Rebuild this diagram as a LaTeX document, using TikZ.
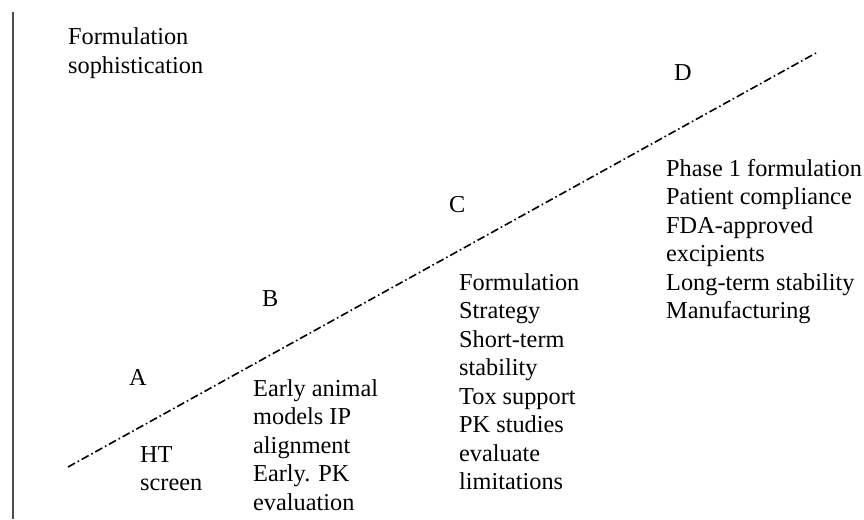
\documentclass[tikz,border=0pt]{standalone}
\usepackage{fontspec}
\setmainfont{Liberation Serif}
\tikzset{
  lbl/.style={anchor=base west, inner sep=0pt, align=left,
    font=\fontsize{24.3}{28.5}\selectfont},
  axis/.style={draw=black!70, line width=2pt},
  trend/.style={line width=1.6pt, dash pattern=on 8pt off 3pt on 1.6pt off 3pt}
}
\begin{document}
\begin{tikzpicture}[x=1pt,y=-1pt]
\useasboundingbox (0,0) rectangle (864,519);
% vertical axis
\coordinate (axtop) at (12.5,12);
\coordinate (axbot) at (12.5,519);
\draw[axis] (axtop) -- (axbot);
% rising trend line
\coordinate (tstart) at (68,467);
\coordinate (tend) at (816,53);
\draw[trend] (tstart) -- (tend);
% labels (multi-line nodes are placed by the baseline of their last line)
\node[lbl] (title) at (68,73.5) {Formulation\\sophistication};
\node[lbl] (A) at (129,385) {A};
\node[lbl] (B) at (262,306) {B};
\node[lbl] (C) at (449,212) {C};
\node[lbl] (D) at (674,80) {D};
\node[lbl] (ta) at (140,490.5) {HT\\screen};
\node[lbl] (tb) at (253,510) {Early animal\\models IP\\alignment\\Early. PK\\evaluation};
\node[lbl] (tc) at (459,489.5) {Formulation\\Strategy\\Short-term\\stability\\Tox support\\PK studies\\evaluate\\limitations};
\node[lbl] (td) at (666,318.5) {Phase 1 formulation\\Patient compliance\\FDA-approved\\excipients\\Long-term stability\\Manufacturing};
\end{tikzpicture}
\end{document}
